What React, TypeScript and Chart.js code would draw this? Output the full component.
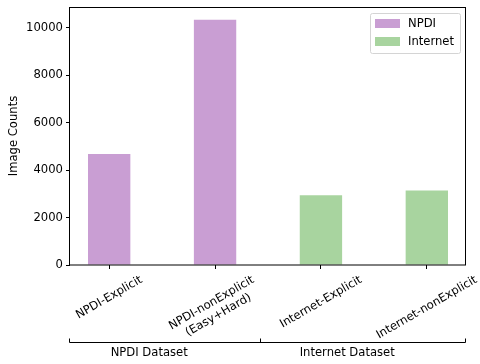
import React, { useEffect, useRef } from 'react';
import { Chart, registerables } from 'chart.js';

Chart.register(...registerables);

const categories: (string | string[])[] = [
  'NPDI-Explicit',
  ['NPDI-nonExplicit', '(Easy+Hard)'],
  'Internet-Explicit',
  'Internet-nonExplicit',
];
const npdiPositions = [0, 1];
const npdiValues = [4680, 10340];
const internetPositions = [2, 3];
const internetValues = [2940, 3140];
const yTicks = [0, 2000, 4000, 6000, 8000, 10000];
const seriesNames = ['NPDI', 'Internet'];
const groupLabels = ['NPDI Dataset', 'Internet Dataset'];

const PURPLE = '#C99ED3';
const GREEN = '#A8D49F';
const FONT = '"DejaVu Sans", sans-serif';
const FS = 11.6;

const overlayPlugin = {
  id: 'overlay',
  afterDraw(chart: any) {
    const ctx = chart.ctx as CanvasRenderingContext2D;
    const { left, right, top, bottom } = chart.chartArea;
    const xs = chart.scales.x;
    ctx.save();
    // frame
    ctx.strokeStyle = '#000';
    ctx.lineWidth = 1;
    ctx.strokeRect(Math.round(left) - 0.5, Math.round(top) + 0.5, Math.round(right - left), Math.round(bottom - top) - 0.5);

    // rotated category labels
    const lineH = FS * 1.2;
    ctx.font = `${FS}px ${FONT}`;
    ctx.fillStyle = '#000';
    ctx.textAlign = 'center';
    ctx.textBaseline = 'middle';
    const ang = Math.PI / 6;
    categories.forEach((c, i) => {
      const lines = Array.isArray(c) ? c : [c];
      const w = Math.max(...lines.map((l) => ctx.measureText(l).width));
      const h = lines.length * lineH;
      const bh = w * Math.sin(ang) + h * Math.cos(ang);
      const cx = xs.getPixelForValue(i);
      const cy = bottom + 8 + bh / 2;
      ctx.save();
      ctx.translate(cx, cy);
      ctx.rotate(-ang);
      lines.forEach((l, j) => {
        ctx.fillText(l, 0, (j - (lines.length - 1) / 2) * lineH);
      });
      ctx.restore();
    });

    // y title
    ctx.save();
    ctx.translate(14, (top + bottom) / 2);
    ctx.rotate(-Math.PI / 2);
    ctx.fillText('Image Counts', 0, 0);
    ctx.restore();

    // group bracket
    const by = bottom + 77.5;
    const mid = Math.round(left + 0.48 * (right - left)) + 0.5;
    ctx.beginPath();
    ctx.moveTo(Math.round(left) - 0.5, by);
    ctx.lineTo(Math.round(right) - 0.5, by);
    [Math.round(left) - 0.5, mid, Math.round(right) - 0.5].forEach((x) => {
      ctx.moveTo(x, by);
      ctx.lineTo(x, by - 4);
    });
    ctx.stroke();
    ctx.fillText(groupLabels[0], left + 0.2 * (right - left), by + 10);
    ctx.fillText(groupLabels[1], left + 0.7 * (right - left), by + 10);

    // legend
    const lx = right - 96;
    const ly = top + 6;
    const lw = 90;
    const lh = 40;
    ctx.beginPath();
    (ctx as any).roundRect(lx + 0.5, ly + 0.5, lw, lh, 2);
    ctx.fillStyle = 'rgba(255,255,255,0.8)';
    ctx.fill();
    ctx.strokeStyle = '#d4d4d4';
    ctx.stroke();
    const colors = [PURPLE, GREEN];
    seriesNames.forEach((n, i) => {
      const ey = ly + 6 + i * 18;
      ctx.fillStyle = colors[i];
      ctx.fillRect(lx + 5, ey, 25, 9);
      ctx.fillStyle = '#000';
      ctx.textAlign = 'left';
      ctx.fillText(n, lx + 38, ey + 5);
    });
    ctx.restore();
  },
};

export default function App() {
  const ref = useRef<HTMLCanvasElement>(null);
  useEffect(() => {
    if (!ref.current) return;
    const chart = new Chart(ref.current, {
      type: 'bar',
      data: {
        datasets: [
          {
            label: seriesNames[0],
            data: npdiPositions.map((x, i) => ({ x, y: npdiValues[i] })),
            backgroundColor: PURPLE,
            grouped: false,
            barPercentage: 0.4,
            categoryPercentage: 1,
          } as any,
          {
            label: seriesNames[1],
            data: internetPositions.map((x, i) => ({ x, y: internetValues[i] })),
            backgroundColor: GREEN,
            grouped: false,
            barPercentage: 0.4,
            categoryPercentage: 1,
          } as any,
        ],
      },
      options: {
        animation: false,
        responsive: false,
        layout: { padding: { left: 0, right: 14, top: 7, bottom: 0 } },
        plugins: { legend: { display: false }, tooltip: { enabled: false } },
        scales: {
          x: {
            type: 'linear',
            min: -0.37,
            max: 3.37,
            offset: false,
            afterBuildTicks: (s: any) => {
              s.ticks = categories.map((_, i) => ({ value: i }));
            },
            afterFit: (s: any) => {
              s.height = 99;
              s.paddingLeft = 0;
              s.paddingRight = 0;
            },
            ticks: { callback: () => '', autoSkip: false, maxRotation: 0 },
            grid: { offset: false, drawOnChartArea: false, drawTicks: true, tickLength: 4, color: '#000', lineWidth: 1 },
            border: { display: false },
          },
          y: {
            type: 'linear',
            min: 0,
            max: 10880,
            afterBuildTicks: (s: any) => {
              s.ticks = yTicks.map((v) => ({ value: v }));
            },
            afterFit: (s: any) => {
              s.width = 70;
              s.paddingTop = 0;
              s.paddingBottom = 0;
            },
            ticks: {
              callback: (v: any) => String(v),
              color: '#000',
              font: { family: FONT, size: FS },
              padding: 3,
            },
            grid: { drawOnChartArea: false, drawTicks: true, tickLength: 4, color: '#000', lineWidth: 1 },
            border: { display: false },
          },
        },
      },
      plugins: [overlayPlugin],
    });
    return () => chart.destroy();
  }, []);
  return (
    <div style={{ position: 'fixed', left: 0, top: 0, width: 480, height: 364, background: '#fff' }}>
      <canvas ref={ref} width={480} height={364} />
    </div>
  );
}
